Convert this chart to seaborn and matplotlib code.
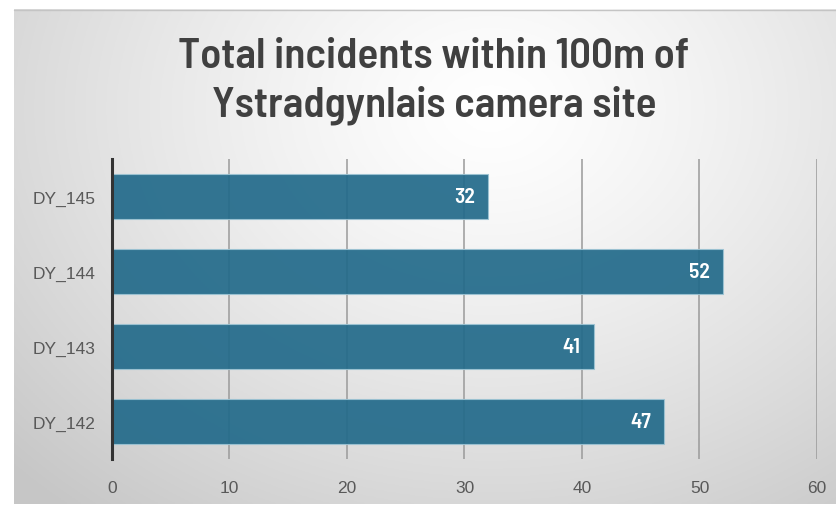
import numpy as np
import matplotlib
matplotlib.use("Agg")
import matplotlib.pyplot as plt
import matplotlib.font_manager as fm
import seaborn as sns

categories = ["DY_145", "DY_144", "DY_143", "DY_142"]
values = [32, 52, 41, 47]
x_ticks = [0, 10, 20, 30, 40, 50, 60]
title_lines = ["Total incidents within 100m of", "Ystradgynlais camera site"]

sns.set_theme(style="white")
names = {f.name for f in fm.fontManager.ttflist}
narrow = "DejaVu Sans"
for cand in ["Barlow Semi Condensed", "Fira Sans Condensed", "Roboto Condensed", "IBM Plex Sans Condensed"]:
    if cand in names:
        narrow = cand
        break
plt.rcParams["font.family"] = ["Liberation Sans", "DejaVu Sans"]

W, H = 837, 506
fig = plt.figure(figsize=(W / 100, H / 100), dpi=100)
fig.patch.set_facecolor("white")

# background gradient panel
bg = fig.add_axes([14 / W, 1 / H, (W - 14) / W, (H - 11) / H], zorder=-5)
gx = np.linspace(0, 1, 400)
gy = np.linspace(0, 1, 250)
XX, YY = np.meshgrid(gx, gy)
d = np.sqrt(((XX - 0.58) / 0.8) ** 2 + ((YY - 0.2) / 1.05) ** 2)
d = np.clip(d, 0, 1)
shade = 1.0 - 0.22 * d ** 1.3
img = np.dstack([shade, shade, shade])
bg.imshow(img, aspect="auto", extent=[0, 1, 0, 1], origin="upper")
bg.set_axis_off()
fig.add_artist(plt.Line2D([14 / W, 1], [1 - 10.5 / H, 1 - 10.5 / H], color="#c4c4c4", lw=1))

ax = fig.add_axes([112 / W, (H - 460) / H, (817 - 112) / W, 300 / H])
ax.set_facecolor("none")
sns.barplot(x=values, y=categories, orient="h", color="#226a8a", width=0.6,
            saturation=1, alpha=0.92, edgecolor="#9cc3d3", linewidth=0.8,
            ax=ax, zorder=2)
ax.set_xlim(0, 60)
ax.set_ylim(3.5, -0.5)
ax.set_xticks(x_ticks)
ax.set_xticklabels([str(t) for t in x_ticks])
ax.xaxis.grid(True, color="#9a9a9a", linewidth=1.1, zorder=1)
ax.set_axisbelow(True)
for s in ["top", "right", "bottom"]:
    ax.spines[s].set_visible(False)
ax.spines["left"].set_color("#333333")
ax.spines["left"].set_linewidth(2.2)
ax.spines["left"].set_zorder(5)
ax.tick_params(axis="x", length=0, pad=15, labelsize=12.5, labelcolor="#595959")
ax.tick_params(axis="y", length=0, pad=12, labelsize=12.5, labelcolor="#595959")
ax.set_xlabel("")
ax.set_ylabel("")

for i, v in enumerate(values):
    ax.annotate(str(v), xy=(v, i), xytext=(-9.5, 0), textcoords="offset points",
                ha="right", va="center", color="white", fontsize=15.5,
                fontweight="semibold", fontfamily=[narrow, "DejaVu Sans"], zorder=6)

for k, yy in enumerate([57, 105]):
    fig.text(434 / W, 1 - yy / H, title_lines[k], ha="center", va="center",
             fontsize=31, fontweight="semibold", color="#404040",
             fontfamily=[narrow, "DejaVu Sans"])

fig.savefig("out.png", dpi=100)
